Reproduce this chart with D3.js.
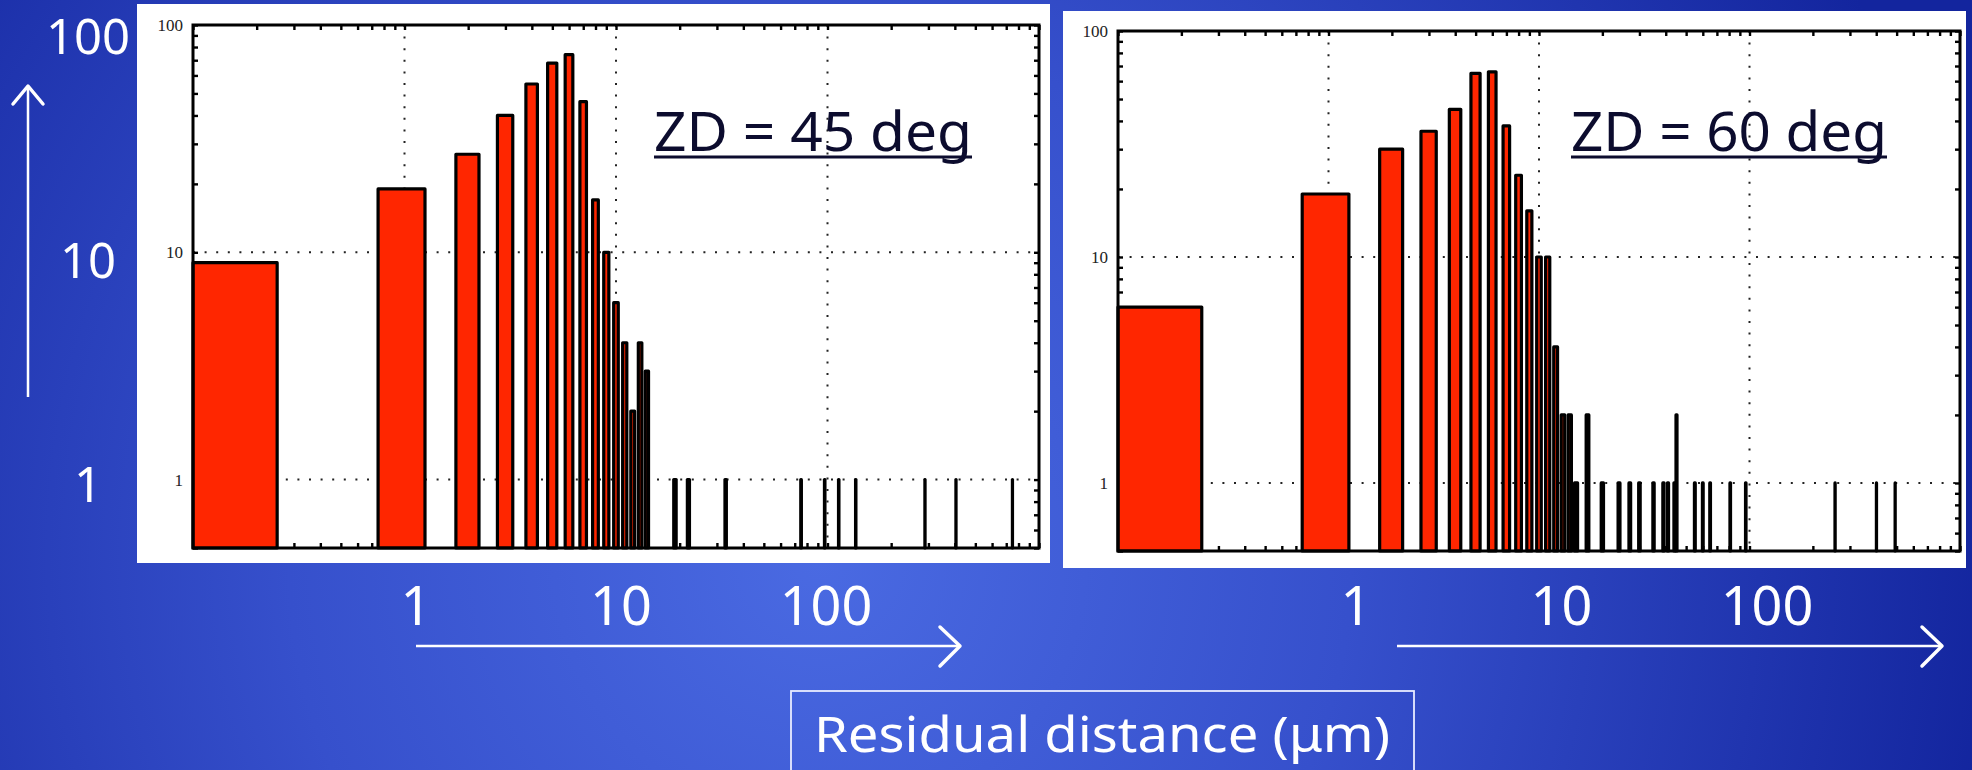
<!DOCTYPE html>
<html>
<head>
<meta charset="utf-8">
<script src="https://cdn.jsdelivr.net/npm/d3@7"></script>
<style>
  html, body { margin: 0; padding: 0; background: #2a40c0; }
  svg { display: block; }
</style>
</head>
<body>
<svg width="1972" height="770"></svg>
<script>
const width = 1972;
const height = 770;

// residual distance (um) of each histogram bin and its count, ZD = 45 deg
const distZD45 = [0, 1, 2, 3, 4, 5, 6, 7, 8, 9, 10, 11, 12, 13, 14, 19, 22, 33, 75, 97, 113, 136, 289, 405, 749];
const countZD45 = [9, 19, 27, 40, 55, 68, 74, 46, 17, 10, 6, 4, 2, 4, 3, 1, 1, 1, 1, 1, 1, 1, 1, 1, 1];

// same for ZD = 60 deg
const distZD60 = [0, 1, 2, 3, 4, 5, 6, 7, 8, 9, 10, 11, 12, 13, 14, 15, 17, 20, 24, 27, 30, 35, 39, 41, 44, 45, 55, 60, 65, 81, 96, 255, 401, 492];
const countZD60 = [6, 19, 30, 36, 45, 65, 66, 38, 23, 16, 10, 10, 4, 2, 2, 1, 2, 1, 1, 1, 1, 1, 1, 1, 1, 2, 1, 1, 1, 1, 1, 1, 1, 1];

const panelTitles = ['ZD = 45 deg', 'ZD = 60 deg'];
const xGrid = [1, 10, 100];
const yGrid = [1, 10];
const yTickLabels = [1, 10, 100];
const bigXLabels = [1, 10, 100];
const bigYLabels = [1, 10, 100];
const xLabel = 'Residual distance (\u03bcm)';
const binHalf = 0.25;

const svg = d3.select('svg');

// slide background
const defs = svg.append('defs');
const grad = defs.append('radialGradient')
    .attr('id', 'bg')
    .attr('gradientUnits', 'userSpaceOnUse')
    .attr('cx', 820).attr('cy', 560).attr('r', 1180);
grad.append('stop').attr('offset', '0%').attr('stop-color', '#4a6ae2');
grad.append('stop').attr('offset', '45%').attr('stop-color', '#3650cc');
grad.append('stop').attr('offset', '100%').attr('stop-color', '#13259e');
svg.append('rect').attr('width', width).attr('height', height).attr('fill', 'url(#bg)');

const panels = [
    { dist: distZD45, count: countZD45, title: panelTitles[0],
      box: [137, 4, 1050, 563], plot: [193, 25, 1039, 548], titleX: 654, titleW: 318 },
    { dist: distZD60, count: countZD60, title: panelTitles[1],
      box: [1063, 11, 1966, 568], plot: [1118, 31, 1960, 551], titleX: 1571, titleW: 316 }
];

const render = p => {
    const [bx0, by0, bx1, by1] = p.box;
    const [px0, py0, px1, py1] = p.plot;

    svg.append('rect')
        .attr('x', bx0).attr('y', by0)
        .attr('width', bx1 - bx0).attr('height', by1 - by0)
        .attr('fill', '#fff');

    const xScale = d3.scaleLog().domain([0.1, 1000]).range([px0, px1]);
    const yScale = d3.scaleLog().domain([0.5, 100]).range([py1, py0]);

    const g = svg.append('g');

    // dotted grid
    g.selectAll('.vgrid').data(xGrid).enter().append('line')
        .attr('x1', d => xScale(d)).attr('x2', d => xScale(d))
        .attr('y1', py0).attr('y2', py1)
        .attr('stroke', '#222').attr('stroke-width', 2)
        .attr('stroke-dasharray', '2,9.6');
    g.selectAll('.hgrid').data(yGrid).enter().append('line')
        .attr('x1', px0).attr('x2', px1)
        .attr('y1', d => yScale(d)).attr('y2', d => yScale(d))
        .attr('stroke', '#222').attr('stroke-width', 2)
        .attr('stroke-dasharray', '2,9.6');

    // minor ticks on all four sides, pointing inward
    const xt = xScale.ticks();
    const yt = yScale.ticks().filter(d => d >= 0.5);
    const tickAxis = (axis, tx, ty) => {
        const a = g.append('g')
            .attr('transform', `translate(${tx},${ty})`)
            .call(axis);
        a.select('.domain').remove();
        a.selectAll('line').attr('stroke', '#000').attr('stroke-width', 2.4);
        a.selectAll('text').remove();
    };
    tickAxis(d3.axisBottom(xScale).tickValues(xt).tickSize(-5), 0, py1);
    tickAxis(d3.axisTop(xScale).tickValues(xt).tickSize(-5), 0, py0);
    tickAxis(d3.axisLeft(yScale).tickValues(yt).tickSize(-5), px0, 0);
    tickAxis(d3.axisRight(yScale).tickValues(yt).tickSize(-5), px1, 0);

    // histogram bars
    const bins = p.dist.map((d, i) => ({ dist: d, count: p.count[i] }));
    g.selectAll('.bar').data(bins).enter().append('rect')
        .attr('x', d => xScale(Math.max(0.1, d.dist - binHalf)))
        .attr('width', d => xScale(d.dist + binHalf) - xScale(Math.max(0.1, d.dist - binHalf)))
        .attr('y', d => yScale(d.count))
        .attr('height', d => yScale(0.5) - yScale(d.count))
        .attr('fill', '#ff2600')
        .attr('stroke', '#000')
        .attr('stroke-width', 3.2)
        .attr('stroke-linejoin', 'round');

    // frame
    g.append('rect')
        .attr('x', px0).attr('y', py0)
        .attr('width', px1 - px0).attr('height', py1 - py0)
        .attr('fill', 'none').attr('stroke', '#000').attr('stroke-width', 3);

    // small y tick labels
    const yAxisG = g.append('g')
        .attr('transform', `translate(${px0},0)`)
        .call(d3.axisLeft(yScale).tickValues(yTickLabels).tickSize(0).tickPadding(10).tickFormat(d3.format('d')));
    yAxisG.select('.domain').remove();
    yAxisG.selectAll('text')
        .attr('font-family', '"Liberation Serif", serif')
        .attr('font-size', 17)
        .attr('fill', '#222');

    // panel title
    g.append('text')
        .text(p.title)
        .attr('x', p.titleX).attr('y', 151)
        .attr('textLength', p.titleW).attr('lengthAdjust', 'spacingAndGlyphs')
        .attr('font-family', '"Noto Sans", sans-serif')
        .attr('font-size', 54)
        .attr('fill', '#0c0c2e');
    g.append('line')
        .attr('x1', p.titleX).attr('x2', p.titleX + p.titleW)
        .attr('y1', 157).attr('y2', 157)
        .attr('stroke', '#0c0c2e').attr('stroke-width', 3);
};

panels.forEach(render);

// slide annotations in white
const white = '#fff';
const font = '"Noto Sans", sans-serif';

const bigY = d3.scaleLog().domain([1, 100]).range([502, 54]);
svg.selectAll('.bigy').data(bigYLabels).enter().append('text')
    .text(d => d)
    .attr('x', 88).attr('y', d => bigY(d))
    .attr('text-anchor', 'middle')
    .attr('font-family', font).attr('font-size', 49)
    .attr('fill', white);

svg.append('line')
    .attr('x1', 28).attr('x2', 28).attr('y1', 397).attr('y2', 86)
    .attr('stroke', white).attr('stroke-width', 2.5);
svg.append('path')
    .attr('d', 'M13,104 L28,86 L43,104')
    .attr('fill', 'none').attr('stroke', white).attr('stroke-width', 3.5)
    .attr('stroke-linecap', 'round').attr('stroke-linejoin', 'round');

const bottomAxes = [[416, 826, 416, 960], [1356, 1767, 1397, 1942]];
bottomAxes.forEach(([l0, l1, a0, a1]) => {
    const bx = d3.scaleLog().domain([1, 100]).range([l0, l1]);
    svg.append('g').selectAll('text').data(bigXLabels).enter().append('text')
        .text(d => d)
        .attr('x', d => bx(d)).attr('y', 625)
        .attr('text-anchor', 'middle')
        .attr('font-family', font).attr('font-size', 54)
        .attr('fill', white);
    svg.append('line')
        .attr('x1', a0).attr('x2', a1).attr('y1', 646).attr('y2', 646)
        .attr('stroke', white).attr('stroke-width', 2.5);
    svg.append('path')
        .attr('d', `M${a1 - 20},627 L${a1},646 L${a1 - 20},666`)
        .attr('fill', 'none').attr('stroke', white).attr('stroke-width', 3.5)
        .attr('stroke-linecap', 'round').attr('stroke-linejoin', 'round');
});

svg.append('rect')
    .attr('x', 791).attr('y', 691).attr('width', 623).attr('height', 100)
    .attr('fill', 'none').attr('stroke', '#e8ecff').attr('stroke-width', 1.8);
svg.append('text')
    .text(xLabel)
    .attr('x', 814).attr('y', 752)
    .attr('textLength', 576).attr('lengthAdjust', 'spacingAndGlyphs')
    .attr('font-family', font).attr('font-size', 50)
    .attr('fill', white);
</script>
</body>
</html>
